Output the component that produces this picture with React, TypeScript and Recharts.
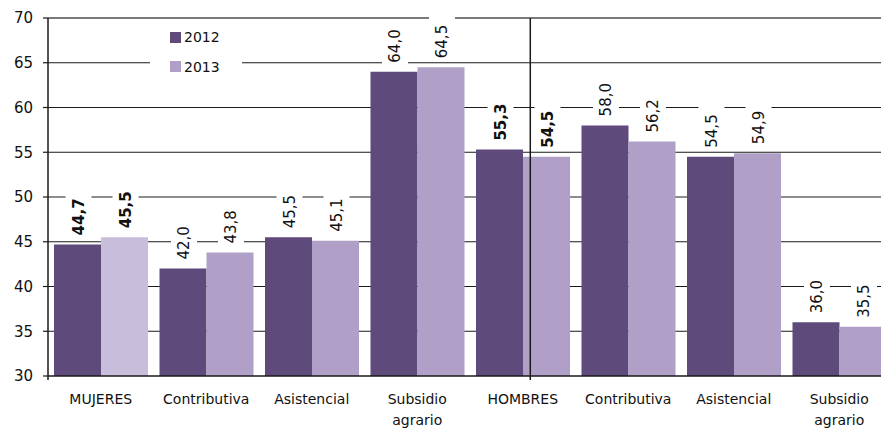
import React from "react";
import {
  BarChart,
  Bar,
  XAxis,
  YAxis,
  CartesianGrid,
  Legend,
  LabelList,
  Cell,
  ReferenceLine,
} from "recharts";

const categories = [
  "MUJERES",
  "Contributiva",
  "Asistencial",
  "Subsidio agrario",
  "HOMBRES",
  "Contributiva",
  "Asistencial",
  "Subsidio agrario",
];
const values2012 = [44.7, 42.0, 45.5, 64.0, 55.3, 58.0, 54.5, 36.0];
const values2013 = [45.5, 43.8, 45.1, 64.5, 54.5, 56.2, 54.9, 35.5];
const yTicks = [30, 35, 40, 45, 50, 55, 60, 65, 70];
const innerGrid = [35, 40, 45, 50, 55, 60, 65];
const topGrid = [70];
const totalIndices = [0, 4]; // MUJERES / HOMBRES totals (bold labels)
const dividerAt = 4; // number of female categories

const C2012 = "#5E4A7B";
const C2013 = "#B0A0C7";
const C2013_TOTAL = "#C8BEDB";
const FONT = "DejaVu Sans";

const data = categories.map((cat, i) => ({
  cat,
  y2012: values2012[i],
  y2013: values2013[i],
}));

const fmt = (v: number) => v.toFixed(1).replace(".", ",");

const textLen = (s: string, bold: boolean, fs: number) => {
  let w = 0;
  for (const ch of s) {
    if (ch === ",") w += bold ? 0.38 : 0.318;
    else w += bold ? 0.696 : 0.636;
  }
  return w * fs;
};

const BarValueLabel = (props: any) => {
  const { x, y, width, value, index } = props;
  const cx = Number(x) + Number(width) / 2 + 1;
  const bold = totalIndices.includes(index);
  const fs = 15;
  const txt = fmt(Number(value));
  const len = textLen(txt, bold, fs);
  const start = Number(y) - 9;
  return (
    <g>
      <rect x={cx - 13} y={start - len - 9} width={26} height={len + 12} fill="#ffffff" />
      <text
        transform={`translate(${cx},${start}) rotate(-90)`}
        textAnchor="start"
        dominantBaseline="central"
        fontFamily={FONT}
        fontSize={fs}
        fontWeight={bold ? 700 : 400}
        fill="#111"
      >
        {txt}
      </text>
    </g>
  );
};

const CatTick = (props: any) => {
  const { x, y, payload } = props;
  const lines = String(payload.value).split(" ");
  return (
    <g>
      {lines.map((l, i) => (
        <text
          key={i}
          x={x}
          y={Number(y) + 15 + i * 21}
          textAnchor="middle"
          dominantBaseline="central"
          fontFamily={FONT}
          fontSize={14}
          fill="#111"
        >
          {l}
        </text>
      ))}
    </g>
  );
};

const LegendContent = (props: any) => {
  const { payload } = props;
  return (
    <div
      style={{
        background: "#fff",
        width: 92,
        height: 58,
        position: "relative",
        fontFamily: FONT,
        fontSize: 14,
        color: "#111",
      }}
    >
      {(payload || []).map((p: any, i: number) => (
        <div
          key={i}
          style={{
            position: "absolute",
            left: 20,
            top: 9 + i * 29.5,
            display: "flex",
            alignItems: "center",
            height: 12,
          }}
        >
          <span style={{ display: "inline-block", width: 11, height: 11, background: p.color, marginRight: 3 }} />
          <span style={{ lineHeight: "12px" }}>{p.value}</span>
        </div>
      ))}
    </div>
  );
};

export default function App() {
  return (
    <div
      style={{
        position: "absolute",
        left: 0,
        top: 0,
        width: 881,
        height: 430,
        overflow: "hidden",
        background: "#fff",
      }}
    >
      <BarChart
        width={893}
        height={430}
        data={data}
        margin={{ top: 18, right: 1, left: 0, bottom: 0 }}
        barGap={0}
        barSize={47}
      >
        <CartesianGrid horizontalValues={innerGrid} vertical={false} stroke="#1a1a1a" strokeWidth={1.2} />
        <CartesianGrid horizontalValues={topGrid} vertical={false} stroke="#7a7a7a" strokeWidth={2} />
        <XAxis
          xAxisId="cat"
          dataKey="cat"
          height={54}
          tickLine={false}
          axisLine={{ stroke: "#1a1a1a", strokeWidth: 1.5 }}
          tick={<CatTick />}
          interval={0}
          allowDuplicatedCategory
        />
        <XAxis xAxisId="div" type="number" domain={[0, categories.length]} hide />
        <YAxis
          width={48}
          domain={[30, 70]}
          ticks={yTicks}
          interval={0}
          tickSize={5}
          tickMargin={10}
          axisLine={{ stroke: "#1a1a1a", strokeWidth: 1.5 }}
          tickLine={{ stroke: "#1a1a1a", strokeWidth: 1.2 }}
          tick={{ fontFamily: FONT, fontSize: 15, fill: "#111" }}
          allowDataOverflow
        />
        <ReferenceLine
          xAxisId="div"
          segment={[
            { x: dividerAt, y: 70 },
            { x: dividerAt, y: 29.55 },
          ]}
          stroke="#1a1a1a"
          strokeWidth={1.5}
          ifOverflow="visible"
        />
        <ReferenceLine
          xAxisId="div"
          segment={[
            { x: 0, y: 30 },
            { x: 0, y: 29.55 },
          ]}
          stroke="#1a1a1a"
          strokeWidth={1.5}
          ifOverflow="visible"
        />
        <Legend
          layout="vertical"
          align="center"
          verticalAlign="middle"
          content={<LegendContent />}
          wrapperStyle={{ position: "absolute", left: 150, top: 22, width: 92, height: 58 }}
        />
        <Bar xAxisId="cat" dataKey="y2012" name="2012" fill={C2012} isAnimationActive={false}>
          <LabelList dataKey="y2012" content={<BarValueLabel />} />
        </Bar>
        <Bar xAxisId="cat" dataKey="y2013" name="2013" fill={C2013} isAnimationActive={false}>
          {data.map((_, i) => (
            <Cell key={i} fill={totalIndices[0] === i ? C2013_TOTAL : C2013} />
          ))}
          <LabelList dataKey="y2013" content={<BarValueLabel />} />
        </Bar>
      </BarChart>
    </div>
  );
}
